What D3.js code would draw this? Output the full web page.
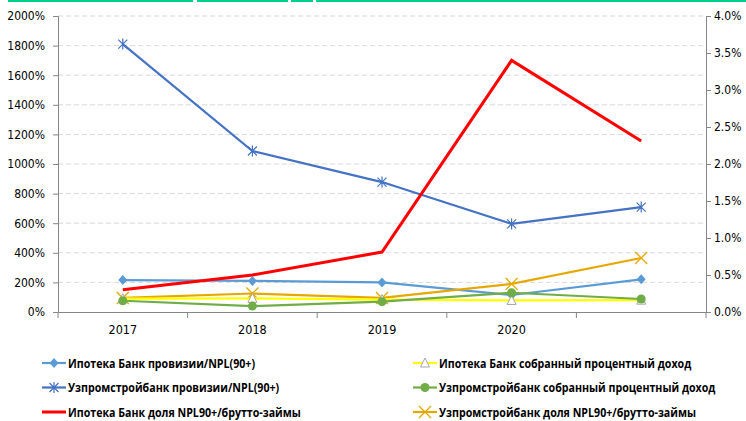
<!DOCTYPE html>
<html>
<head>
<meta charset="utf-8">
<script src="https://cdn.jsdelivr.net/npm/d3@7"></script>
<style>
  body { margin: 0; background: #fff; }
  svg { display: block; }
  .tick text { font-family: "DejaVu Sans", sans-serif; font-stretch: condensed; font-size: 12px; fill: #000; }
  .legend text { font-family: "Open Sans", sans-serif; font-size: 13px; font-weight: bold; fill: #000; }
</style>
</head>
<body>
<svg width="746" height="421"></svg>
<script>
var years = ["2017", "2018", "2019", "2020", ""];
var leftTicks = [0, 200, 400, 600, 800, 1000, 1200, 1400, 1600, 1800, 2000];
var rightTicks = [0, 0.5, 1, 1.5, 2, 2.5, 3, 3.5, 4];

var ipotekaProv = [216, 210, 200, 115, 221];
var uzpromProv = [1810, 1088, 878, 595, 709];
var ipotekaIncome = [90, 92, 84, 78, 80];
var uzpromIncome = [76, 40, 70, 130, 88];
var ipotekaNpl = [0.30, 0.50, 0.81, 3.40, 2.31];
var uzpromNpl = [0.19, 0.25, 0.19, 0.38, 0.73];

var series = [
  { name: "Ипотека Банк провизии/NPL(90+)", values: ipotekaProv, axis: "left", color: "#5B9BD5", marker: "diamond" },
  { name: "Ипотека Банк  собранный процентный доход", values: ipotekaIncome, axis: "left", color: "#FFFF00", marker: "triangle" },
  { name: "Узпромстройбанк провизии/NPL(90+)", values: uzpromProv, axis: "left", color: "#4472C4", marker: "star" },
  { name: "Узпромстройбанк собранный процентный доход", values: uzpromIncome, axis: "left", color: "#70AD47", marker: "circle" },
  { name: "Ипотека Банк доля NPL90+/брутто-займы", values: ipotekaNpl, axis: "right", color: "#FF0000", marker: "none" },
  { name: "Узпромстройбанк доля NPL90+/брутто-займы", values: uzpromNpl, axis: "right", color: "#E6A800", marker: "x" }
];

var svg = d3.select("svg");
var plotL = 58, plotR = 706, plotT = 16, plotB = 312;

// green strip at the top edge (cut-off remains)
[[8, 193], [197, 288], [291, 313], [316, 746]].forEach(function(s) {
  svg.append("line").attr("x1", s[0]).attr("x2", s[1]).attr("y1", 1).attr("y2", 1)
    .attr("stroke", "#00D08C").attr("stroke-width", 2);
});

var x = d3.scaleBand().domain(d3.range(years.length)).range([plotL, plotR]);
var yL = d3.scaleLinear().domain([0, 2000]).range([plotB, plotT]);
var yR = d3.scaleLinear().domain([0, 4]).range([plotB, plotT]);

// gridlines
svg.append("g").selectAll("line").data(leftTicks.slice(1)).enter().append("line")
  .attr("x1", plotL).attr("x2", plotR)
  .attr("y1", function(d) { return yL(d); }).attr("y2", function(d) { return yL(d); })
  .attr("stroke", "#D9D9D9").attr("stroke-dasharray", "5,3");

var gl = svg.append("g").attr("transform", "translate(" + plotL + ",0)")
  .call(d3.axisLeft(yL).tickValues(leftTicks).tickSize(5).tickPadding(8).tickFormat(function(d) { return d + "%"; }));
var gr = svg.append("g").attr("transform", "translate(" + plotR + ",0)")
  .call(d3.axisRight(yR).tickValues(rightTicks).tickSize(5).tickPadding(3).tickFormat(function(d) { return d.toFixed(1) + "%"; }));
var gx = svg.append("g").attr("transform", "translate(0," + plotB + ")")
  .call(d3.axisBottom(x).tickSize(0).tickPadding(13).tickFormat(function(i) { return years[i]; }));

[gl, gr, gx].forEach(function(g) {
  g.select(".domain").attr("stroke", "#868686");
  g.selectAll(".tick line").attr("stroke", "#868686");
});
gx.selectAll(".tick text").style("font-size", "12.5px");

// category boundary ticks
svg.append("g").selectAll("line").data(d3.range(years.length + 1)).enter().append("line")
  .attr("x1", function(i) { return plotL + i * x.step(); })
  .attr("x2", function(i) { return plotL + i * x.step(); })
  .attr("y1", plotB).attr("y2", plotB + 6)
  .attr("stroke", "#868686");

function yOf(s) { return s.axis === "left" ? yL : yR; }

function drawMarker(g, type, color, cx, cy) {
  if (type === "diamond") {
    g.append("path").attr("d", "M" + cx + "," + (cy - 5) + "L" + (cx + 4.5) + "," + cy + "L" + cx + "," + (cy + 5) + "L" + (cx - 4.5) + "," + cy + "Z").attr("fill", color);
  } else if (type === "circle") {
    g.append("circle").attr("cx", cx).attr("cy", cy).attr("r", 4.5).attr("fill", color);
  } else if (type === "triangle") {
    g.append("path").attr("d", "M" + cx + "," + (cy - 5) + "L" + (cx + 4.5) + "," + (cy + 4) + "L" + (cx - 4.5) + "," + (cy + 4) + "Z")
      .attr("fill", "#fff").attr("stroke", "#A6A6A6").attr("stroke-width", 1);
  } else if (type === "x") {
    g.append("path").attr("d", "M" + (cx - 6) + "," + (cy - 6) + "L" + (cx + 6) + "," + (cy + 6) + "M" + (cx + 6) + "," + (cy - 6) + "L" + (cx - 6) + "," + (cy + 6))
      .attr("stroke", color).attr("stroke-width", 1.3);
  } else if (type === "star") {
    g.append("path").attr("d", "M" + (cx - 4.5) + "," + (cy - 4.5) + "L" + (cx + 4.5) + "," + (cy + 4.5) + "M" + (cx + 4.5) + "," + (cy - 4.5) + "L" + (cx - 4.5) + "," + (cy + 4.5) + "M" + cx + "," + (cy - 5.5) + "L" + cx + "," + (cy + 5.5))
      .attr("stroke", color).attr("stroke-width", 1.2);
  }
}

var drawOrder = [2, 0, 5, 1, 3, 4];
drawOrder.forEach(function(k) {
  var s = series[k];
  var y = yOf(s);
  var line = d3.line()
    .x(function(d, i) { return x(i) + x.bandwidth() / 2; })
    .y(function(d) { return y(d); });
  var g = svg.append("g");
  g.append("path").datum(s.values).attr("d", line).attr("fill", "none")
    .attr("stroke", s.color).attr("stroke-width", s.marker === "none" ? 3 : 2.2);
  s.values.forEach(function(v, i) {
    drawMarker(g, s.marker, s.color, x(i) + x.bandwidth() / 2, y(v));
  });
});

// legend (text squeezed to look like a narrow font)
var legend = svg.append("g").attr("class", "legend");
series.forEach(function(s, k) {
  var col = k % 2, row = Math.floor(k / 2);
  var lx = col === 0 ? 42 : 413;
  var ly = 363 + row * 24.5;
  var g = legend.append("g");
  g.append("line").attr("x1", lx).attr("x2", lx + 24).attr("y1", ly).attr("y2", ly)
    .attr("stroke", s.color).attr("stroke-width", s.marker === "none" ? 3 : 2.2);
  drawMarker(g, s.marker, s.color, lx + 12, ly);
  g.append("text").attr("x", 0).attr("y", 0).text(s.name)
    .attr("transform", "translate(" + (lx + 26) + "," + (ly + 4.5) + ") scale(0.82,1)");
});
</script>
</body>
</html>
